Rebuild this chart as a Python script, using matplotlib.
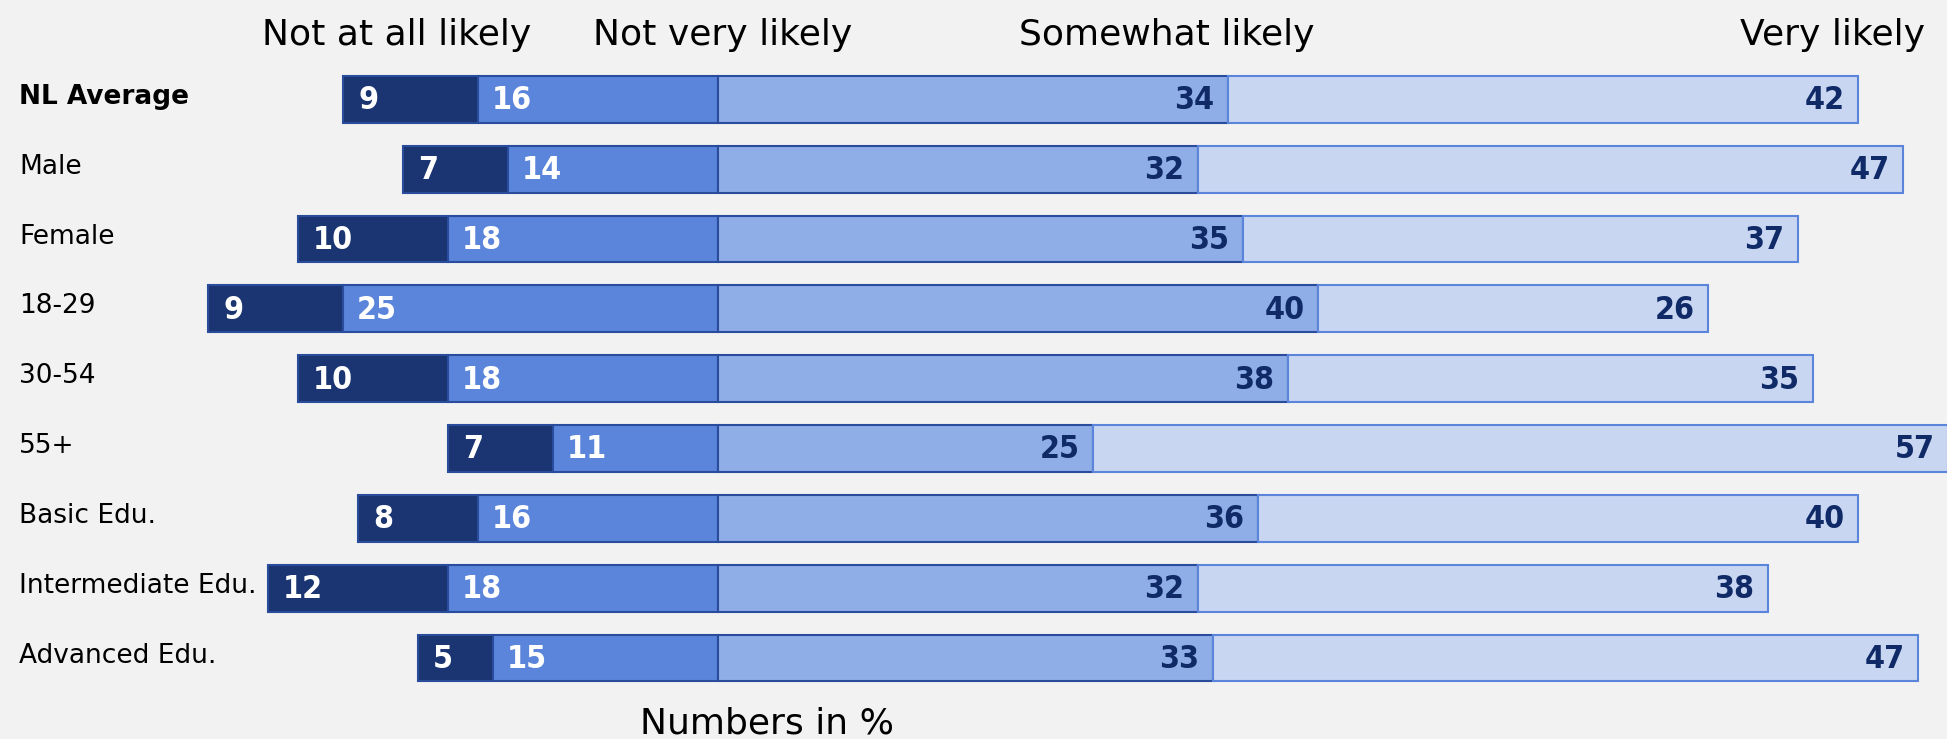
import matplotlib
matplotlib.use('Agg')
import matplotlib.pyplot as plt

groups = ['NL Average', 'Male', 'Female', '18-29', '30-54', '55+',
          'Basic Edu.', 'Intermediate Edu.', 'Advanced Edu.']
not_at_all = [9, 7, 10, 9, 10, 7, 8, 12, 5]
not_very = [16, 14, 18, 25, 18, 11, 16, 18, 15]
somewhat = [34, 32, 35, 40, 38, 25, 36, 32, 33]
very = [42, 47, 37, 26, 35, 57, 40, 38, 47]
headers = ['Not at all likely', 'Not very likely', 'Somewhat likely', 'Very likely']

bg = '#f2f2f2'
c_dark = '#1a3571'
c_mid = '#5b84db'
c_light = '#8faee8'
c_pale = '#c8d6f2'
edge_dark = '#2a4c9c'
edge_pale = '#5b84db'
navy = '#0f2a66'

fig = plt.figure(figsize=(19.47, 7.39), dpi=100, facecolor=bg)
ax = fig.add_axes([0, 0, 1, 1])
ax.set_facecolor(bg)

y = list(range(len(groups)))
h = 0.67
left1 = [-(a + b) for a, b in zip(not_at_all, not_very)]
left2 = [-b for b in not_very]

ax.barh(y, not_at_all, left=left1, height=h, color=c_dark, edgecolor=edge_dark, linewidth=1.5)
ax.barh(y, not_very, left=left2, height=h, color=c_mid, edgecolor=edge_dark, linewidth=1.5)
ax.barh(y, somewhat, left=0, height=h, color=c_light, edgecolor=edge_dark, linewidth=1.5)
ax.barh(y, very, left=somewhat, height=h, color=c_pale, edgecolor=edge_pale, linewidth=1.5)

# bar values
num_font = dict(family='DejaVu Sans', fontstretch='condensed', fontweight='bold', fontsize=23)
for i in y:
    ax.text(left1[i] + 1.0, i + 0.02, str(not_at_all[i]), color='white', ha='left', va='center', **num_font)
    ax.text(left2[i] + 0.9, i + 0.02, str(not_very[i]), color='white', ha='left', va='center', **num_font)
    ax.text(somewhat[i] - 0.9, i + 0.02, str(somewhat[i]), color=navy, ha='right', va='center', **num_font)
    ax.text(somewhat[i] + very[i] - 0.9, i + 0.02, str(very[i]), color=navy, ha='right', va='center', **num_font)

# row labels
for i, g in enumerate(groups):
    ax.text(19 / 1947, i - 0.035, g, transform=ax.get_yaxis_transform(), ha='left', va='center',
            fontsize=19, fontweight='bold' if i == 0 else 'normal', color='black')

# column headers
hx = [397, 723, 1167, 1833]
for x, t in zip(hx, headers):
    fig.text(x / 1947, 1 - 35 / 739, t, ha='center', va='center', fontsize=26)
fig.text(767 / 1947, 1 - 723 / 739, 'Numbers in %', ha='center', va='center', fontsize=26)

ax.set_xlim(-47.87, 81.93)
ax.set_ylim(9.16, -1.422)
ax.axis('off')

fig.savefig('out.png', dpi=100, facecolor=bg)
